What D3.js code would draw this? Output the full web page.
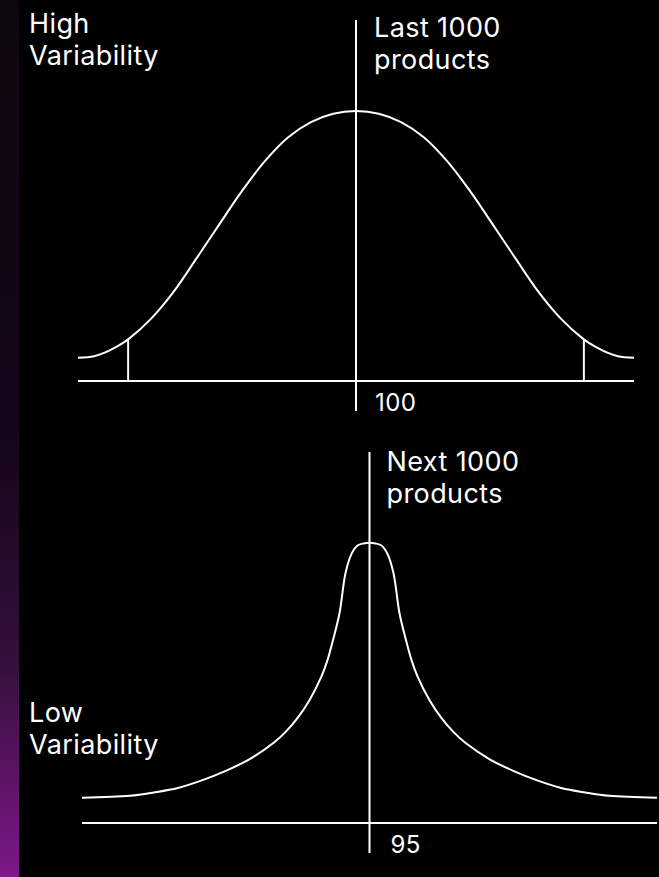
<!DOCTYPE html>
<html>
<head>
<meta charset="utf-8">
<script src="https://cdn.jsdelivr.net/npm/d3@7"></script>
<style>
  html, body { margin: 0; padding: 0; background: #000; }
  svg { display: block; }
  text { font-family: Inter, "Noto Sans", sans-serif; fill: #fff; letter-spacing: 0.4px; }
</style>
</head>
<body>
<svg id="canvas" width="659" height="877"></svg>
<script>
// top chart: last 1000 products, centred on 100 (left half, right half mirrored)
let topX = [87.8, 88.5, 89, 89.5, 90, 91, 92, 93, 94, 95, 96, 97, 98, 99, 100];
let topY = [8.6, 9.2, 10.6, 12.7, 15.4, 23.0, 33.1, 45.4, 58.0, 70.4, 81.4, 90.1, 95.8, 99.0, 100];
let topMarkers = [90, 110];

// bottom chart: next 1000 products, centred on 95 (right half, mirrored)
let bottomX = [95, 95.25, 95.5, 95.75, 96, 96.25, 96.5, 96.75, 97, 97.5, 98, 98.5, 99, 100, 101, 102, 103, 104, 105, 107];
let bottomY = [100, 99.75, 99.0, 96.0, 89.2, 74.9, 66.0, 58.2, 52.4, 43.9, 37.5, 32.5, 28.6, 22.8, 18.6, 15.2, 12.5, 10.9, 9.7, 9.0];

let topTitle = ["Last 1000", "products"];
let bottomTitle = ["Next 1000", "products"];
let topSide = ["High", "Variability"];
let bottomSide = ["Low", "Variability"];

let canvas = d3.select("#canvas");

// purple strip on the left edge
let grad = canvas.append("defs").append("linearGradient")
  .attr("id", "strip")
  .attr("x1", 0).attr("y1", 0).attr("x2", 0).attr("y2", 1);
grad.append("stop").attr("offset", "0").attr("stop-color", "#0e060e");
grad.append("stop").attr("offset", "0.5").attr("stop-color", "#15061a");
grad.append("stop").attr("offset", "0.75").attr("stop-color", "#33103a");
grad.append("stop").attr("offset", "1").attr("stop-color", "#7e1889");

canvas.append("rect").attr("width", 659).attr("height", 877).attr("fill", "#000");
canvas.append("rect").attr("width", 19).attr("height", 877).attr("fill", "url(#strip)");

let drawChart = (opts) => {
  let x = d3.scaleLinear().domain(opts.domain).range([opts.left, opts.right]);
  let y = d3.scaleLinear().domain([0, 100]).range([opts.base, opts.peak]);
  let g = canvas.append("g");

  // baseline
  g.append("line")
    .attr("x1", x.range()[0]).attr("x2", x.range()[1])
    .attr("y1", y(0)).attr("y2", y(0))
    .attr("stroke", "#fff").attr("stroke-width", 2);

  // centre line
  g.append("line")
    .attr("x1", x(opts.centre)).attr("x2", x(opts.centre))
    .attr("y1", opts.lineTop).attr("y2", opts.lineBottom)
    .attr("stroke", "#fff").attr("stroke-width", 2);

  let line = d3.line()
    .x(d => x(d.x))
    .y(d => y(d.y))
    .curve(d3.curveCatmullRom.alpha(0.5));

  g.append("path")
    .datum(opts.points)
    .attr("d", line)
    .attr("fill", "none")
    .attr("stroke", "#fff")
    .attr("stroke-width", 2);

  // marker lines from the curve down to the baseline
  g.selectAll("line.marker")
    .data(opts.markers)
    .enter()
    .append("line")
    .attr("class", "marker")
    .attr("x1", d => x(d)).attr("x2", d => x(d))
    .attr("y1", y(0))
    .attr("y2", d => y(opts.points.find(q => Math.abs(q.x - d) < 1e-6).y))
    .attr("stroke", "#fff").attr("stroke-width", 2);

  // value label
  g.append("text")
    .attr("x", x(opts.centre) + opts.labelDx)
    .attr("y", opts.labelY)
    .attr("font-size", "24px")
    .text(opts.centre);

  // title next to the centre line
  g.selectAll("text.title")
    .data(opts.title)
    .enter()
    .append("text")
    .attr("class", "title")
    .attr("x", x(opts.centre) + opts.titleDx)
    .attr("y", (d, i) => opts.titleY + i * 32)
    .attr("font-size", "27px")
    .text(d => d);

  // side label
  g.selectAll("text.side")
    .data(opts.side)
    .enter()
    .append("text")
    .attr("class", "side")
    .attr("x", 29)
    .attr("y", (d, i) => opts.sideY + i * 32)
    .attr("font-size", "27px")
    .text(d => d);
};

let topHalf = topX.map((v, i) => ({ x: v, y: topY[i] }));
let topPoints = topHalf.concat(topHalf.slice(0, -1).reverse().map(d => ({ x: 200 - d.x, y: d.y })));

let bottomHalf = bottomX.map((v, i) => ({ x: v, y: bottomY[i] }));
let bottomPoints = bottomHalf.slice(1).reverse().map(d => ({ x: 190 - d.x, y: d.y })).concat(bottomHalf);

drawChart({
  domain: [87.8, 112.2], left: 78, right: 634, base: 381, peak: 111,
  centre: 100, lineTop: 20, lineBottom: 411,
  points: topPoints, markers: topMarkers,
  labelDx: 19, labelY: 411,
  title: topTitle, titleDx: 18, titleY: 37,
  side: topSide, sideY: 33
});

drawChart({
  domain: [83, 107], left: 82, right: 657, base: 823, peak: 542.7,
  centre: 95, lineTop: 452, lineBottom: 853,
  points: bottomPoints, markers: [],
  labelDx: 21, labelY: 853,
  title: bottomTitle, titleDx: 17, titleY: 471,
  side: bottomSide, sideY: 722
});
</script>
</body>
</html>
